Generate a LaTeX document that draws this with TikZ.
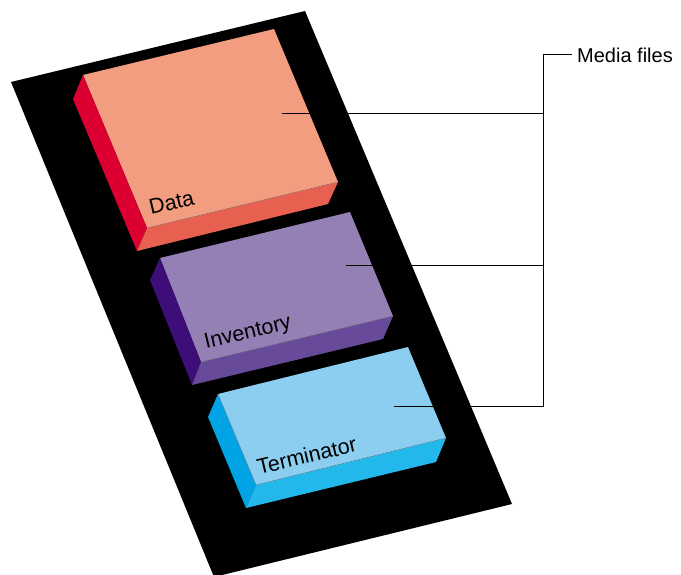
\documentclass[tikz,border=0pt]{standalone}
\usepackage{fontspec}
\setmainfont{Liberation Sans}
\begin{document}
\begin{tikzpicture}[x=1pt,y=-1pt,
  lbl/.style={font=\fontsize{21.5}{24}\selectfont, anchor=base west, inner sep=0pt, rotate=13.5},
  seam/.style={draw=black!45, line width=0.3pt},
  conn/.style={draw=black, line width=0.9pt}]
\useasboundingbox (0,0) rectangle (681,574);
\definecolor{dTop}{RGB}{242,156,128}
\definecolor{dLeft}{RGB}{220,0,50}
\definecolor{dBot}{RGB}{232,96,80}
\definecolor{iTop}{RGB}{148,128,181}
\definecolor{iLeft}{RGB}{62,14,120}
\definecolor{iBot}{RGB}{104,74,154}
\definecolor{tTop}{RGB}{140,206,240}
\definecolor{tLeft}{RGB}{0,164,228}
\definecolor{tBot}{RGB}{34,184,236}
% black panel
\fill[black] (11,82) -- (305,11) -- (512,504) -- (214,577) -- cycle;
% Data
\fill[dTop] (83,75) -- (274,29) -- (338,182) -- (147,228) -- cycle;
\fill[dLeft] (83,75) -- (73,99) -- (137,251) -- (147,228) -- cycle;
\fill[dBot] (147,228) -- (137,251) -- (328,204) -- (338,182) -- cycle;
\draw[seam] (147,228) -- (338,182);
% Inventory
\fill[iTop] (160,258) -- (350,212) -- (393,316) -- (201,362) -- cycle;
\fill[iLeft] (160,258) -- (150,280) -- (192,385) -- (201,362) -- cycle;
\fill[iBot] (201,362) -- (192,385) -- (383,339) -- (393,316) -- cycle;
\draw[seam] (201,362) -- (393,316);
% Terminator
\fill[tTop] (218,394) -- (408,347) -- (446,438) -- (256,485) -- cycle;
\fill[tLeft] (218,394) -- (208,417) -- (246,508) -- (256,485) -- cycle;
\fill[tBot] (256,485) -- (246,508) -- (436,462) -- (446,438) -- cycle;
\draw[seam] (256,485) -- (446,438);
\draw[seam] (218,394) -- (256,485);
% labels
\node[lbl] (ldata) at (151,215) {Data};
\node[lbl] (linv) at (206,349) {Inventory};
\node[lbl] (lterm) at (259,475) {Terminator};
\node[font=\fontsize{20}{24}\selectfont, anchor=base west, inner sep=0pt] (media) at (577,62) {Media files};
% connector points
\coordinate (pdata) at (282,113);
\coordinate (pinv) at (346,265);
\coordinate (pterm) at (394,406);
\coordinate (jtop) at (543,54);
\coordinate (jdata) at (543,113);
\coordinate (jinv) at (543,265);
\coordinate (jterm) at (543,406);
\draw[conn] (pdata) -- (jdata);
\draw[conn] (pinv) -- (jinv);
\draw[conn] (pterm) -- (jterm) -- (jtop) -- ([xshift=-5pt]media.west |- jtop);
\end{tikzpicture}
\end{document}
